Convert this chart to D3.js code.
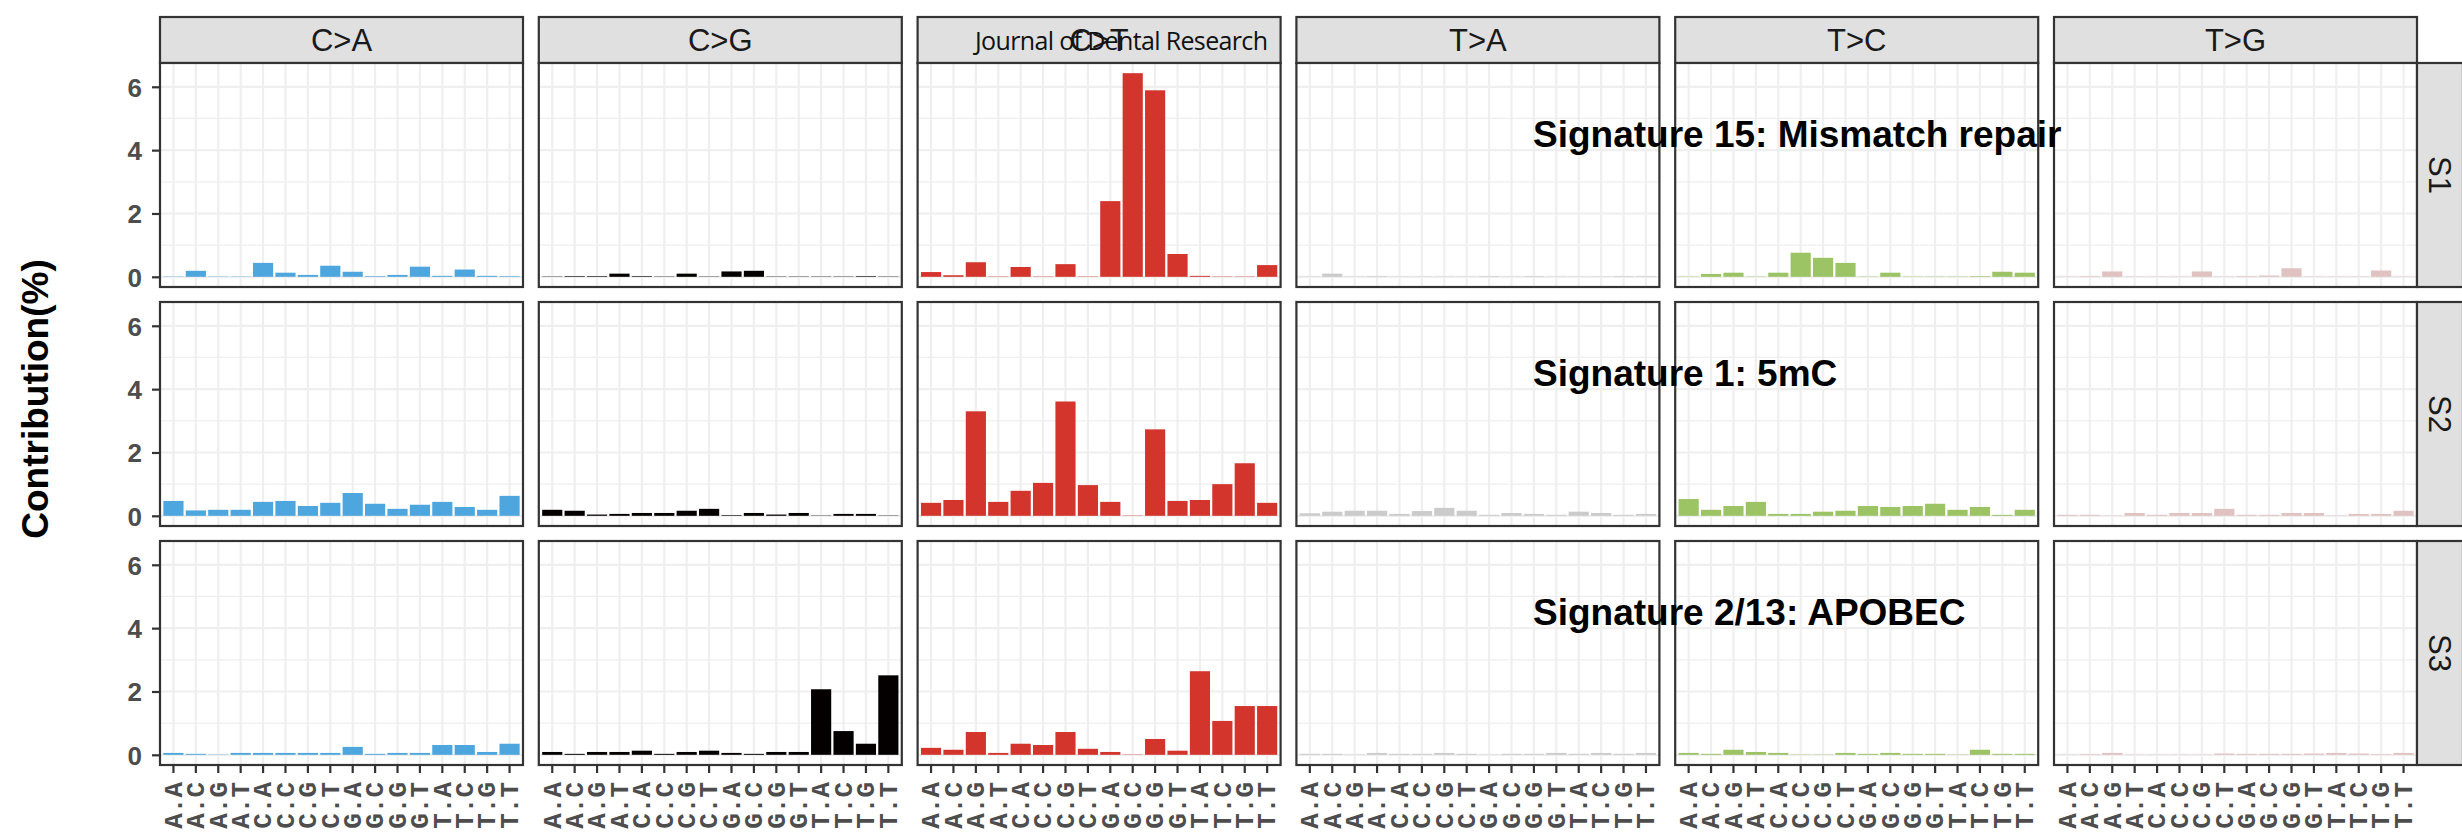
<!DOCTYPE html>
<html>
<head>
<meta charset="utf-8">
<script src="https://cdn.jsdelivr.net/npm/d3@7"></script>
<style>
  body { margin: 0; background: #fff; }
  svg { display: block; }
</style>
</head>
<body>
<svg id="chart" width="2462" height="833"></svg>
<script>
// categories
const mutationTypes = ["C>A", "C>G", "C>T", "T>A", "T>C", "T>G"];
const contexts = ["A.A", "A.C", "A.G", "A.T", "C.A", "C.C", "C.G", "C.T",
                  "G.A", "G.C", "G.G", "G.T", "T.A", "T.C", "T.G", "T.T"];
const signatures = ["S1", "S2", "S3"];
const sigNotes = ["Signature 15: Mismatch repair", "Signature 1: 5mC", "Signature 2/13: APOBEC"];
const typeColors = ["#4da6dd", "#050000", "#d3352d", "#cccbcb", "#9cc465", "#e0c2c1"];
const yTicks = [0, 2, 4, 6];

// S1 contributions (%)
const s1_CA = [0.01, 0.19, 0.01, 0.01, 0.44, 0.13, 0.06, 0.35, 0.16, 0.02, 0.06, 0.32, 0.03, 0.23, 0.03, 0.02];
const s1_CG = [0.01, 0.02, 0.02, 0.10, 0.02, 0.01, 0.10, 0.01, 0.17, 0.19, 0.01, 0.01, 0.01, 0.01, 0.02, 0.01];
const s1_CT = [0.15, 0.05, 0.46, 0.01, 0.31, 0.01, 0.40, 0.01, 2.39, 6.43, 5.89, 0.72, 0.03, 0.01, 0.01, 0.37];
const s1_TA = [0.01, 0.10, 0.01, 0.02, 0.01, 0.01, 0.01, 0.01, 0.02, 0.01, 0.02, 0.01, 0.01, 0.01, 0.02, 0.02];
const s1_TC = [0.01, 0.09, 0.13, 0.01, 0.13, 0.76, 0.60, 0.44, 0.01, 0.13, 0.01, 0.01, 0.01, 0.02, 0.16, 0.13];
const s1_TG = [0.01, 0.02, 0.17, 0.01, 0.01, 0.01, 0.17, 0.01, 0.02, 0.04, 0.27, 0.01, 0.01, 0.01, 0.20, 0.01];

// S2
const s2_CA = [0.47, 0.17, 0.19, 0.19, 0.44, 0.47, 0.31, 0.41, 0.72, 0.38, 0.22, 0.35, 0.44, 0.28, 0.19, 0.63];
const s2_CG = [0.19, 0.16, 0.04, 0.06, 0.09, 0.09, 0.16, 0.22, 0.02, 0.09, 0.04, 0.09, 0.01, 0.06, 0.06, 0.01];
const s2_CT = [0.41, 0.50, 3.30, 0.44, 0.79, 1.04, 3.61, 0.97, 0.44, 0.01, 2.73, 0.47, 0.50, 1.00, 1.66, 0.41];
const s2_TA = [0.08, 0.13, 0.16, 0.16, 0.06, 0.15, 0.25, 0.16, 0.03, 0.09, 0.06, 0.03, 0.13, 0.09, 0.03, 0.06];
const s2_TC = [0.53, 0.19, 0.31, 0.44, 0.06, 0.06, 0.13, 0.16, 0.31, 0.28, 0.31, 0.38, 0.19, 0.28, 0.03, 0.19];
const s2_TG = [0.03, 0.03, 0.01, 0.09, 0.03, 0.09, 0.09, 0.22, 0.03, 0.03, 0.09, 0.09, 0.01, 0.06, 0.06, 0.16];

// S3
const s3_CA = [0.06, 0.03, 0.01, 0.06, 0.06, 0.06, 0.06, 0.06, 0.25, 0.03, 0.06, 0.06, 0.31, 0.31, 0.09, 0.35];
const s3_CG = [0.09, 0.03, 0.09, 0.09, 0.13, 0.03, 0.09, 0.13, 0.06, 0.03, 0.09, 0.09, 2.07, 0.75, 0.35, 2.51];
const s3_CT = [0.22, 0.16, 0.72, 0.06, 0.35, 0.31, 0.72, 0.19, 0.09, 0.01, 0.50, 0.13, 2.64, 1.07, 1.54, 1.54];
const s3_TA = [0.03, 0.03, 0.01, 0.06, 0.03, 0.03, 0.06, 0.03, 0.01, 0.03, 0.03, 0.06, 0.03, 0.06, 0.03, 0.06];
const s3_TC = [0.06, 0.03, 0.16, 0.09, 0.06, 0.01, 0.01, 0.06, 0.03, 0.06, 0.03, 0.03, 0.01, 0.16, 0.03, 0.03];
const s3_TG = [0.01, 0.02, 0.06, 0.01, 0.01, 0.01, 0.01, 0.04, 0.03, 0.03, 0.03, 0.04, 0.06, 0.04, 0.02, 0.06];

const values = [
  [s1_CA, s1_CG, s1_CT, s1_TA, s1_TC, s1_TG],
  [s2_CA, s2_CG, s2_CT, s2_TA, s2_TC, s2_TG],
  [s3_CA, s3_CG, s3_CT, s3_TA, s3_TC, s3_TG],
];

// layout
const leftX = 160, topY = 17;
const stripH = 46, panelW = 363, panelH = 224, colGap = 15.8, rowGap = 15;
const panelX = (j) => leftX + j * (panelW + colGap);
const rowY = (i) => topY + stripH + i * (panelH + rowGap);
const stripX = panelX(5) + panelW;
const border = "#333333";
const gridCol = "#efefef";
const sansFont = "'Liberation Sans', Arial, Helvetica, sans-serif";

const svg = d3.select("#chart");
svg.append("rect").attr("width", 2462).attr("height", 833).attr("fill", "#fff");

const maxVal = d3.max(values.flat(2));
const y = d3.scaleLinear()
  .domain([-0.05 * maxVal, maxVal * 1.05])
  .range([panelH, 0]);
const x = d3.scaleBand()
  .domain(contexts)
  .range([0, panelW])
  .paddingInner(0.1)
  .paddingOuter(0.15);

// top strips
mutationTypes.forEach((t, j) => {
  const g = svg.append("g").attr("transform", `translate(${panelX(j)},${topY})`);
  g.append("rect")
    .attr("width", panelW).attr("height", stripH)
    .attr("fill", "#e0e0e0").attr("stroke", border).attr("stroke-width", 2.2);
  g.append("text")
    .attr("x", panelW / 2).attr("y", stripH / 2).attr("dy", "0.36em")
    .attr("text-anchor", "middle")
    .attr("font-family", sansFont).attr("font-size", 31).attr("fill", "#1a1a1a")
    .text(t);
});

signatures.forEach((s, i) => {
  mutationTypes.forEach((t, j) => {
    const g = svg.append("g").attr("transform", `translate(${panelX(j)},${rowY(i)})`);
    g.append("rect").attr("width", panelW).attr("height", panelH).attr("fill", "#fff");

    // minor + major grid
    g.selectAll(".minor")
      .data([1, 3, 5])
      .join("line")
      .attr("x1", 0).attr("x2", panelW)
      .attr("y1", (d) => y(d)).attr("y2", (d) => y(d))
      .attr("stroke", gridCol).attr("stroke-width", 1.2);
    g.selectAll(".major")
      .data(yTicks)
      .join("line")
      .attr("x1", 0).attr("x2", panelW)
      .attr("y1", (d) => y(d)).attr("y2", (d) => y(d))
      .attr("stroke", gridCol).attr("stroke-width", 2.2);
    g.selectAll(".vgrid")
      .data(contexts)
      .join("line")
      .attr("x1", (d) => x(d) + x.bandwidth() / 2)
      .attr("x2", (d) => x(d) + x.bandwidth() / 2)
      .attr("y1", 0).attr("y2", panelH)
      .attr("stroke", gridCol).attr("stroke-width", 2.2);

    const data = contexts.map((c, k) => ({ c, v: values[i][j][k] }));
    g.selectAll(".bar")
      .data(data)
      .join("rect")
      .attr("x", (d) => x(d.c))
      .attr("width", x.bandwidth())
      .attr("y", (d) => y(Math.max(d.v, 0)))
      .attr("height", (d) => Math.abs(y(d.v) - y(0)))
      .attr("fill", typeColors[j]);

    g.append("rect")
      .attr("width", panelW).attr("height", panelH)
      .attr("fill", "none").attr("stroke", border).attr("stroke-width", 2.2);

    // y axis on the first column
    if (j === 0) {
      const ax = g.append("g").call(
        d3.axisLeft(y).tickValues(yTicks).tickSize(8).tickPadding(10).tickFormat(d3.format("d"))
      );
      ax.select(".domain").remove();
      ax.selectAll(".tick line").attr("stroke", border).attr("stroke-width", 2.2);
      ax.selectAll(".tick text")
        .attr("font-family", sansFont).attr("font-size", 26).attr("font-weight", "bold")
        .attr("fill", "#4d4d4d").attr("dy", "0.36em");
    }

    // x axis on the last row
    if (i === signatures.length - 1) {
      const ax = g.append("g")
        .attr("transform", `translate(0,${panelH})`)
        .call(d3.axisBottom(x).tickSize(8));
      ax.select(".domain").remove();
      ax.selectAll(".tick line").attr("stroke", border).attr("stroke-width", 2.2);
      ax.selectAll(".tick text")
        .attr("transform", "rotate(-90)")
        .attr("x", -17).attr("y", 0).attr("dy", "0.32em")
        .attr("text-anchor", "end")
        .attr("font-family", "'Liberation Mono', 'Courier New', monospace")
        .attr("font-size", 26).attr("font-weight", "bold")
        .attr("fill", "#4d4d4d");
    }
  });

  // right strip
  const rs = svg.append("g").attr("transform", `translate(${stripX},${rowY(i)})`);
  rs.append("rect")
    .attr("width", stripH).attr("height", panelH)
    .attr("fill", "#e0e0e0").attr("stroke", border).attr("stroke-width", 2.2);
  rs.append("text")
    .attr("transform", `translate(${stripH / 2},${panelH / 2}) rotate(90)`)
    .attr("dy", "0.36em").attr("text-anchor", "middle")
    .attr("font-family", sansFont).attr("font-size", 31).attr("fill", "#1a1a1a")
    .text(s);

  // signature notes
  svg.append("text")
    .attr("x", 1533).attr("y", rowY(i) + 84)
    .attr("font-family", sansFont).attr("font-size", 37).attr("font-weight", "bold")
    .attr("fill", "#000")
    .text(sigNotes[i]);
});

// y title
svg.append("text")
  .attr("transform", `translate(48,${(rowY(0) + rowY(2) + panelH) / 2 - 15}) rotate(-90)`)
  .attr("text-anchor", "middle")
  .attr("font-family", sansFont).attr("font-size", 37).attr("font-weight", "bold")
  .attr("fill", "#000")
  .text("Contribution(%)");

// journal watermark over the C>T strip
svg.append("text")
  .attr("x", 975).attr("y", 50)
  .attr("font-family", "'Open Sans', sans-serif").attr("font-size", 25)
  .attr("textLength", 293)
  .attr("fill", "#111")
  .text("Journal of Dental Research");
</script>
</body>
</html>
